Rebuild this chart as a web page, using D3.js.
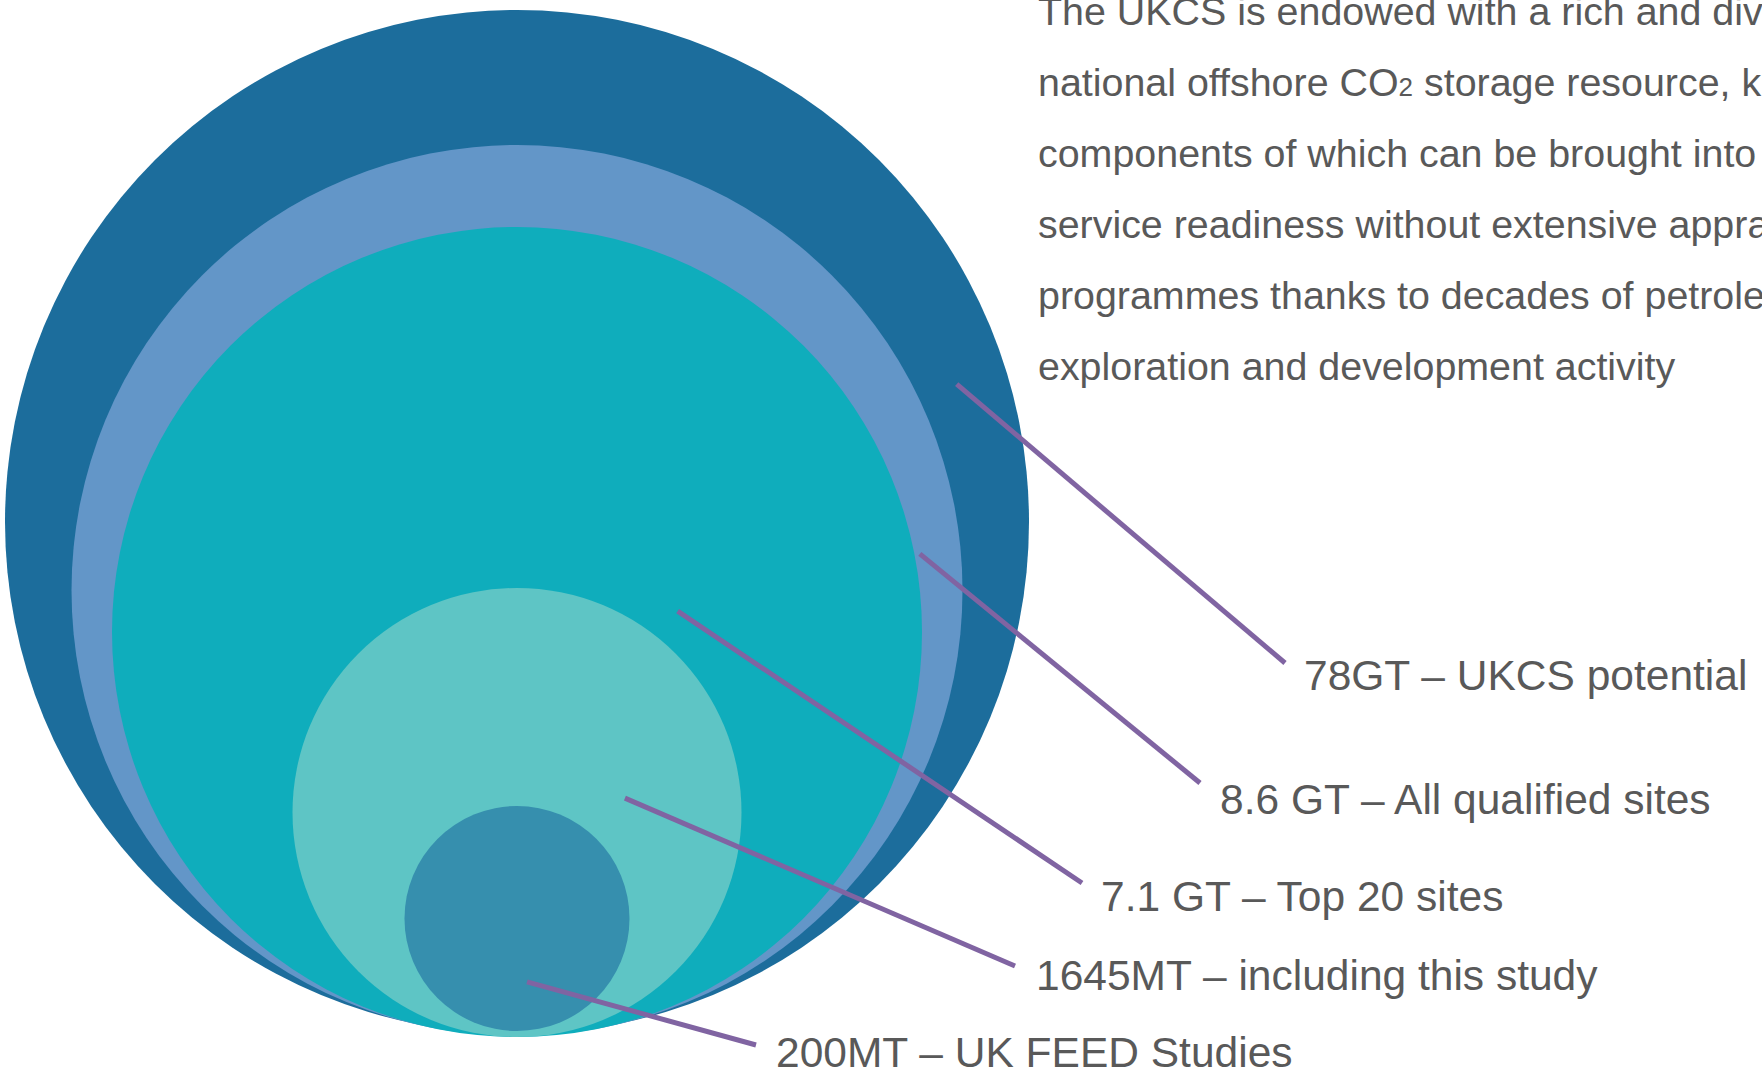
<!DOCTYPE html>
<html>
<head>
<meta charset="utf-8">
<script src="https://cdn.jsdelivr.net/npm/d3@7"></script>
<style>
  body { margin: 0; background: #fff; overflow: hidden; }
  svg { display: block; font-family: "Liberation Sans", Arial, sans-serif; }
</style>
</head>
<body>
<div id="chart"></div>
<script>
// storage tiers, largest to smallest
const labels = [
    "78GT – UKCS potential",
    "8.6 GT – All qualified sites",
    "7.1 GT – Top 20 sites",
    "1645MT – including this study",
    "200MT – UK FEED Studies"
];
const capacityMt = [78000, 8600, 7100, 1645, 200];
const fills = ["#1c6d9c", "#6396c8", "#0fadbc", "#5ec5c5", "#368fae"];

const introLines = [
    "The UKCS is endowed with a rich and diverse",
    "national offshore CO|2| storage resource, key",
    "components of which can be brought into",
    "service readiness without extensive appraisal",
    "programmes thanks to decades of petroleum",
    "exploration and development activity"
];

const width = 1762;
const height = 1075;
const centerX = 517;
const textColor = "#595959";
const leaderColor = "#8064a2";

// circles are illustrative, not to scale: size by rank of capacity
const radius = d3.scaleOrdinal()
    .domain(capacityMt)
    .range([512, 445.5, 405, 224.5, 112.5]);
const bottomY = d3.scaleOrdinal()
    .domain(capacityMt)
    .range([1034, 1036, 1037, 1037, 1031]);

// where each leader starts inside its circle (degrees, fraction of radius)
const leaderAngle = [-17.4, -5.2, -7.4, -7.6, 81];
const leaderFrac = [0.90, 0.908, 0.40, 0.485, 0.57];
// label anchors and leader end offsets
const labelPos = [[1304, 690], [1220, 814], [1101, 911], [1036, 990], [776, 1067]];
const leaderEnd = [[-19, -27], [-20, -31], [-19, -28], [-21, -24], [-20, -22]];

const tiers = capacityMt.map((v, i) => ({
    value: v,
    label: labels[i],
    fill: fills[i],
    r: radius(v),
    cy: bottomY(v) - radius(v)
}));

const svg = d3.select("#chart")
    .append("svg")
    .attr("width", width)
    .attr("height", height);

svg.selectAll("circle.tier")
    .data(tiers)
    .enter()
    .append("circle")
    .attr("class", "tier")
    .attr("cx", centerX)
    .attr("cy", d => d.cy)
    .attr("r", d => d.r)
    .attr("fill", d => d.fill);

svg.selectAll("line.leader")
    .data(tiers)
    .enter()
    .append("line")
    .attr("class", "leader")
    .attr("x1", (d, i) => centerX + d.r * leaderFrac[i] * Math.cos(leaderAngle[i] * Math.PI / 180))
    .attr("y1", (d, i) => d.cy + d.r * leaderFrac[i] * Math.sin(leaderAngle[i] * Math.PI / 180))
    .attr("x2", (d, i) => labelPos[i][0] + leaderEnd[i][0])
    .attr("y2", (d, i) => labelPos[i][1] + leaderEnd[i][1])
    .attr("stroke", leaderColor)
    .attr("stroke-width", 5);

svg.selectAll("text.tier-label")
    .data(tiers)
    .enter()
    .append("text")
    .attr("class", "tier-label")
    .attr("x", (d, i) => labelPos[i][0])
    .attr("y", (d, i) => labelPos[i][1])
    .attr("fill", textColor)
    .style("font-size", "42.5px")
    .text(d => d.label);

// intro paragraph, top right, runs off the edge like the original
const intro = svg.append("g").attr("class", "intro");
introLines.forEach((line, i) => {
    const t = intro.append("text")
        .attr("x", 1038)
        .attr("y", 25 + i * 71)
        .attr("fill", textColor)
        .style("font-size", "39.4px");
    line.split("|").forEach((part, j) => {
        t.append("tspan")
            .style("font-size", j === 1 ? "26px" : null)
            .text(part);
    });
});
</script>
</body>
</html>
